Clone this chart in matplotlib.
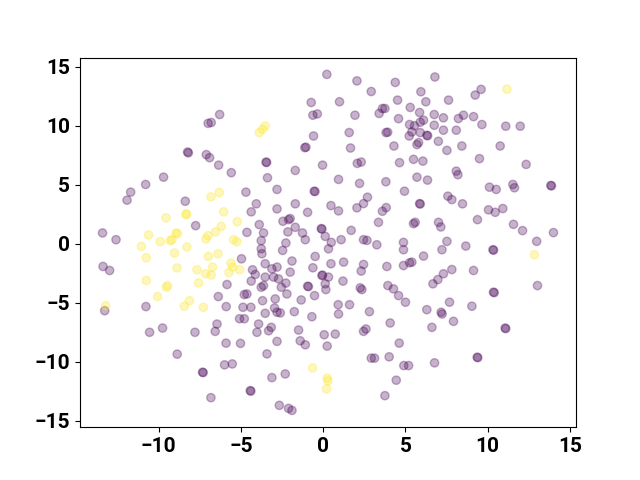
import matplotlib
matplotlib.use("Agg")
import matplotlib.pyplot as plt
import numpy as np

# class 0 (purple) points
x_class0 = [0.22, 2.05, 4.38, 2.92, -0.73, 0.99, 4.52, 3.6, 3.75, 5.29, -0.63, -0.36, 1.93, 3.4, 4.58,
            5.25, 5.55, 5.9, -0.59, 1.58, 3.82, 3.92, 5.23, -1.12, -1.05, 1.66, 4.3,
            -6.3, -7.0, -6.81, -8.25, -8.2, -7.11, -6.91,
            6.79, 9.6, 9.24, 5.94, 6.24, 7.62, 5.86, 6.75, 7.31, 8.22, 8.53, 9.14, 6.1,
            6.75, 7.31, 8.09, 9.65, 11.1, 11.98, 5.39, 5.9, 6.3, 6.35, 7.0, 5.7, 5.8, 7.52, 8.43, 10.76,
            -6.36, -5.59, -9.71, -10.8, -11.71, -11.93, -4.7, -8.39, -7.76, -4.64, -13.42, -12.6,
            -13.39, -12.99, -4.97, -5.85, -6.38, -4.8, -4.64, -13.29, -10.78, -5.9, -4.88, -5.09, -4.8,
            -6.46, -6.57, -9.77, -10.56, -7.8, -5.91, -5.03,
            -8.88, -6.0, -5.53, -7.34, -7.3, -6.83,
            -2.81, -1.4, -1.09, 0.24, 4.62, -3.42, 2.92, 3.12, 4.01, 4.9, 5.19, -3.12, -2.31, 4.44,
            -4.44, -4.4, 3.75, -2.67, -2.11, -1.9,
            6.77, 9.36, 9.4,
            6.1, 7.22, 8.67, 10.32, 10.36, 12.98, 5.39, 7.82, 7.31, 6.97, 6.67, 9.14, 13.03, 10.35, 10.4,
            7.68, 9.04, 6.3, 7.17, 7.23, 7.92, 6.61, 11.06, 11.1,
            5.49, 6.06, 9.5, 12.34, 5.7, 6.34, 8.09, 8.19, 10.11, 10.52, 11.53, 11.63, 13.84, 13.88,
            5.86, 5.9, 7.58, 7.82, 8.47, 10.05, 10.46, 10.92, 9.38, 5.49, 5.59, 7.01, 7.15, 11.57, 12.12,
            14.0, 7.52,
            -3.48, -3.44, -1.7, -0.04, 2.07, 2.31, 4.64, -3.39, 0.93, 2.21, 3.81, -2.81, -0.55, -0.5, 4.94,
            -4.07, -4.38, -2.81, -1.7, -0.95, 0.47, 0.93, 2.05, 2.45, 2.69, 3.6, 3.83, 3.36, -3.89,
            -2.45, -2.11, -2.01, -3.63, -3.77, -2.15, -1.7, -1.26, -1.09, -0.12, -0.08, 0.12, 0.49,
            1.09, 1.7, 2.45, 2.66, 3.26, 4.88, -2.27,
            -3.77, -3.73, -2.47, 0.32, 4.88, -0.49, -3.53, -1.9, -4.3, -4.13, -3.12, -2.81, -2.01,
            -0.63, 0.47, 1.24, 2.45, 2.31, 3.87, 4.88, 5.25,
            -0.08, -0.04, 0.32, 0.12, 0.16,
            -4.38, -3.53, -3.63, -3.77, -3.02, -2.72, -2.55, -2.27, -0.95, -0.9, -2.21, 1.2, 2.35, 2.25,
            3.93, 4.27, 4.58, 5.0, -0.53, -1.34, -3.69, -2.92, -4.4, -2.96, -2.81, -2.61, -3.53, -1.76,
            -0.69, 0.91, 0.93, 1.6, 2.81, 4.07, -3.93, -4.03, -3.32, -3.16, -1.5, 0.06, 0.73, 2.45, 2.6]
y_class0 = [14.35, 13.8, 13.67, 12.9, 11.97, 12.03, 12.17, 11.46, 11.46, 11.55, 10.89, 11.0, 10.89, 11.04, 10.6,
            10.1, 10.0, 10.3, 9.13, 9.42, 9.42, 9.45, 9.13, 8.14, 8.18, 8.11, 8.28,
            10.95, 10.2, 10.27, 7.77, 7.7, 7.55, 7.29,
            14.13, 13.08, 12.6, 12.88, 12.03, 12.17, 11.12, 10.95, 10.67, 10.61, 10.89, 10.77, 10.47,
            10.04, 9.62, 9.62, 10.1, 9.96, 9.96, 9.47, 9.42, 9.19, 9.15, 8.68, 8.4, 8.57, 7.91, 8.28, 8.28,
            6.66, 6.02, 5.64, 5.02, 4.37, 3.69, 4.37, 3.6, 1.53, 0.96, 0.91, 0.34,
            -1.93, -2.27, -1.28, -3.46, -4.48, -4.31, -4.26, -5.68, -5.33, -5.33, -5.39, -6.36, -6.36,
            -6.81, -7.43, -7.15, -7.51, -7.51, -8.43, -8.45,
            -9.36, -10.27, -10.19, -10.89, -10.93, -13.05,
            -8.28, -8.23, -8.57, -8.68, -8.43, -9.34, -9.7, -9.7, -9.59, -10.33, -10.33, -11.35, -11.04, -11.57,
            -12.45, -12.5, -12.88, -13.7, -13.96, -14.13,
            -10.1, -9.62, -9.66,
            -1.05, -0.51, -0.2, -0.51, -0.55, 0.2, -1.56, -2.19, -2.55, -3.04, -3.4, -2.27, -3.55, -4.11, -4.15,
            -4.96, -5.3, -5.59, -5.81, -5.96, -6.58, -7.09, -7.15, -7.2,
            7.15, 7.0, 7.21, 6.72, 5.64, 5.39, 6.15, 5.85, 4.79, 4.6, 5.02, 4.74, 4.94, 4.9,
            3.4, 3.36, 4.03, 3.74, 3.38, 2.87, 2.66, 2.98, 2.04, 1.7, 1.81, 1.81, 1.42, 1.64, 1.11,
            0.94, 0.2,
            6.92, 6.88, 6.21, 6.66, 6.81, 6.92, 6.87, 5.59, 5.45, 5.11, 5.25, 4.6, 4.45, 4.42, 4.45,
            3.38, 2.7, 2.95, 3.38, 2.66, 3.23, 2.78, 3.04, 3.4, 3.94, 2.75, 3.06, 1.81, 1.62,
            1.9, 2.04, 2.13, 0.91, 0.26, 1.0, 1.39, 0.91, 0.34, 1.28, 1.24, 0.62, 0.11,
            0.34, 1.13, 0.34, 0.28, -0.09, 0.11, 0.06,
            -0.43, -0.85, -0.57, -0.43, -0.51, -1.08, -1.7, -1.47, -2.21, -2.61, -2.13, -1.98, -2.41,
            -2.04, -1.7, -1.56, -1.76, -2.32, -1.93, -1.85, -1.62,
            -2.7, -2.66, -2.83, -3.4, -3.89,
            -3.17, -2.83, -3.55, -3.69, -2.83, -2.98, -3.69, -3.34, -3.6, -3.64, -4.26, -3.17, -3.89, -3.74,
            -3.55, -3.83, -4.4, -4.96, -4.4, -4.77, -4.83, -4.68, -5.39, -5.45, -5.81, -5.87, -5.9, -5.76,
            -6.19, -5.17, -5.96, -5.17, -5.76, -6.72, -6.81, -7.51, -7.38, -7.09, -7.32, -7.72, -7.66, -7.43, -7.23]

# class 1 (yellow) points
x_class1 = [-3.53, -3.69, -3.89, 11.17, -6.32, -6.83, -6.06, -8.33, -8.33, -9.56, -5.23, -6.2, -6.55,
            -7.01, -7.13, -8.95, -8.86, -9.2, -9.3, -10.62, -9.91, -11.06, -8.29, -5.45, -5.25,
            -10.76, -9.04, -6.99, -6.4, -8.89, -7.68, -6.73, -7.15, -6.81, -5.61, -5.51, -5.73, -5.09,
            -10.76, -7.58, -9.47, -9.54, -10.07, -8.13, -8.45, -7.29, -13.23, 12.84, -0.65, 0.24, 0.29, 0.2]
y_class1 = [9.98, 9.7, 9.42, 13.1, 4.34, 3.97, 2.7, 2.55, 2.45, 2.19, 1.87, 1.47, 1.0,
            0.68, 0.4, 0.91, 0.85, 0.34, 0.26, 0.74, 0.17, -0.23, -0.28, 0.34, 0.17,
            -1.19, -0.79, -1.08, -0.85, -2.04, -2.21, -1.98, -2.55, -2.66, -1.64, -1.98, -2.44, -2.21,
            -3.12, -3.32, -3.55, -3.69, -4.48, -4.83, -5.3, -5.39, -5.25, -0.94, -10.53, -11.4, -11.63, -12.31]

x = np.array(x_class0 + x_class1)
y = np.array(y_class0 + y_class1)
labels = np.array([0] * len(x_class0) + [1] * len(x_class1))

fig, ax = plt.subplots(figsize=(6.4, 4.8), dpi=100)
ax.scatter(x, y, c=labels, cmap='viridis', alpha=0.3)

ax.set_xticks([-10, -5, 0, 5, 10, 15])
ax.set_yticks([-15, -10, -5, 0, 5, 10, 15])
for lbl in ax.get_xticklabels() + ax.get_yticklabels():
    lbl.set_fontfamily(['Roboto', 'DejaVu Sans'])
    lbl.set_fontweight('bold')
    lbl.set_fontsize(15)

plt.savefig('out.png', dpi=100)
